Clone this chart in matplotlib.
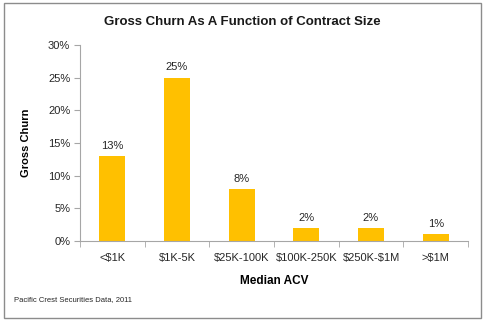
import matplotlib.pyplot as plt
from matplotlib.patches import Rectangle
from matplotlib.ticker import FuncFormatter, MultipleLocator

categories = ['<$1K', '$1K-5K', '$25K-100K', '$100K-250K', '$250K-$1M', '>$1M']
churn = [13, 25, 8, 2, 2, 1]

plt.rcParams['font.family'] = ['Liberation Sans', 'DejaVu Sans']
plt.rcParams['text.parse_math'] = False

fig = plt.figure(figsize=(4.85, 3.24), dpi=100)
ax = fig.add_axes([80 / 485, 1 - 241 / 324, 388 / 485, 196 / 324])

x = range(len(categories))
ax.bar(x, churn, width=0.4, color='#FFC000')
for i, v in zip(x, churn):
    ax.text(i, v + 0.8, f'{v}%', ha='center', va='bottom', fontsize=8, color='#262626')

ax.set_xlim(-0.5, len(categories) - 0.5)
ax.set_ylim(0, 30)
ax.yaxis.set_major_locator(MultipleLocator(5))
ax.yaxis.set_major_formatter(FuncFormatter(lambda v, p: f'{v:.0f}%'))
ax.set_xticks(list(x))
ax.set_xticklabels(categories)
ax.set_xticks([i + 0.5 for i in range(-1, len(categories))], minor=True)
ax.tick_params(axis='x', which='major', length=0, pad=9, labelsize=8, labelcolor='#262626')
ax.tick_params(axis='x', which='minor', length=4, color='#A6A6A6', direction='out')
ax.tick_params(axis='y', length=4, color='#A6A6A6', labelsize=8, labelcolor='#262626', pad=3)

for s in ['top', 'right']:
    ax.spines[s].set_visible(False)
for s in ['left', 'bottom']:
    ax.spines[s].set_color('#A6A6A6')

ax.set_ylabel('Gross Churn', fontsize=8, fontweight='bold', labelpad=12)
ax.set_xlabel('Median ACV', fontsize=8.5, fontweight='bold', labelpad=8)

fig.text(0.5, 1 - 22 / 324, 'Gross Churn As A Function of Contract Size',
         ha='center', va='center', fontsize=9.5, fontweight='bold', color='#1a1a1a')
fig.text(14 / 485, 1 - 300 / 324, 'Pacific Crest Securities Data, 2011',
         ha='left', va='center', fontsize=5.5, color='#262626')

fig.patches.append(Rectangle((4 / 485, 1 - 318 / 324), 477 / 485, 315 / 324,
                             transform=fig.transFigure, fill=False,
                             edgecolor='#8c8c8c', linewidth=1))

plt.savefig('out.png', dpi=100)
